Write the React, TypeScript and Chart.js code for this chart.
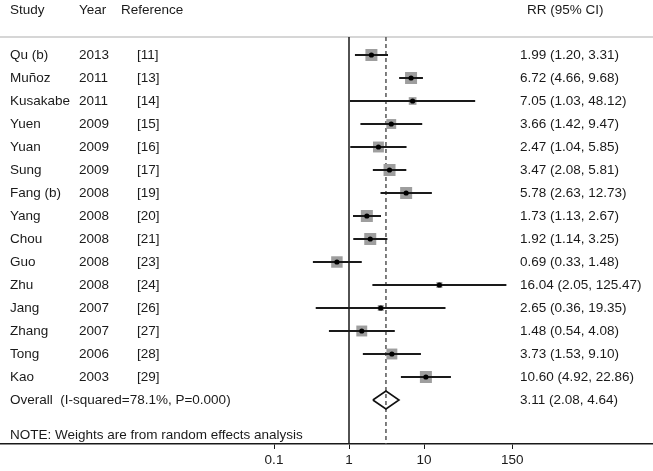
import React, { useEffect, useRef } from "react";
import { Chart, registerables } from "chart.js";

Chart.register(...registerables);

// ---------- data ----------
const studies = ["Qu (b)", "Muñoz", "Kusakabe", "Yuen", "Yuan", "Sung", "Fang (b)", "Yang", "Chou", "Guo", "Zhu", "Jang", "Zhang", "Tong", "Kao"];
const years = ["2013", "2011", "2011", "2009", "2009", "2009", "2008", "2008", "2008", "2008", "2008", "2007", "2007", "2006", "2003"];
const references = ["[11]", "[13]", "[14]", "[15]", "[16]", "[17]", "[19]", "[20]", "[21]", "[23]", "[24]", "[26]", "[27]", "[28]", "[29]"];
const rr = [1.99, 6.72, 7.05, 3.66, 2.47, 3.47, 5.78, 1.73, 1.92, 0.69, 16.04, 2.65, 1.48, 3.73, 10.6];
const ciLow = [1.2, 4.66, 1.03, 1.42, 1.04, 2.08, 2.63, 1.13, 1.14, 0.33, 2.05, 0.36, 0.54, 1.53, 4.92];
const ciHigh = [3.31, 9.68, 48.12, 9.47, 5.85, 5.81, 12.73, 2.67, 3.25, 1.48, 125.47, 19.35, 4.08, 9.1, 22.86];
// approximate study weights (%)
const weights = [8.0, 8.0, 3.3, 5.4, 6.6, 8.0, 8.0, 8.0, 8.0, 7.3, 2.0, 2.0, 6.6, 6.6, 8.0];
const overallLabel = "Overall  (I-squared=78.1%, P=0.000)";
const overallRR = 3.11;
const overallLow = 2.08;
const overallHigh = 4.64;
const headerLabels = ["Study", "Year", "Reference"];
const estimateHeader = "RR (95% CI)";
const noteText = "NOTE: Weights are from random effects analysis";
const xTicks = [0.1, 1, 10, 150];

// ---------- layout / style ----------
const W = 653;
const H = 471;
const FONT = "'Liberation Sans', Arial, Helvetica, sans-serif";
const FONT_SIZE = 13.5;
const TEXT = "#1a1a1a";
const AXIS_H = 27;
const PLOT_BOTTOM = H - AXIS_H;
const PX_PER_DECADE = 75;
const ONE_PX = 349;
const FIRST_ROW_PX = 55;
const ROW_PX = 23;
const SQUARE_BASE = 12;
const xMin = Math.pow(10, -ONE_PX / PX_PER_DECADE);
const xMax = Math.pow(10, (W - ONE_PX) / PX_PER_DECADE);
const yMin = -FIRST_ROW_PX / ROW_PX;
const yMax = yMin + PLOT_BOTTOM / ROW_PX;
const headerRow = -1.95;
const separatorRow = -0.78;
const overallRow = studies.length;
const noteRow = 16.52;
const diamondHalf = 9 / ROW_PX;
const colX = [10, 79, 121];
const refX = 137;
const estX = 520;
const estHeaderX = 527;

const fmt = (v: number) => v.toFixed(2);

const textPlugin = {
  id: "forestText",
  afterDatasetsDraw(chart: any) {
    const ctx = chart.ctx as CanvasRenderingContext2D;
    const ys = chart.scales.y;
    ctx.save();
    ctx.font = `${FONT_SIZE}px ${FONT}`;
    ctx.fillStyle = TEXT;
    ctx.textBaseline = "middle";
    ctx.textAlign = "left";
    const hy = ys.getPixelForValue(headerRow);
    headerLabels.forEach((h, i) => ctx.fillText(h, colX[i], hy));
    ctx.fillText(estimateHeader, estHeaderX, hy);
    studies.forEach((s, i) => {
      const py = ys.getPixelForValue(i);
      ctx.fillText(s, colX[0], py);
      ctx.fillText(years[i], colX[1], py);
      ctx.fillText(references[i], refX, py);
      ctx.fillText(`${fmt(rr[i])} (${fmt(ciLow[i])}, ${fmt(ciHigh[i])})`, estX, py);
    });
    const oy = ys.getPixelForValue(overallRow);
    ctx.fillText(overallLabel, colX[0], oy);
    ctx.fillText(`${fmt(overallRR)} (${fmt(overallLow)}, ${fmt(overallHigh)})`, estX, oy);
    ctx.fillText(noteText, colX[0], ys.getPixelForValue(noteRow));
    ctx.restore();
  },
};

export default function App() {
  const ref = useRef<HTMLCanvasElement | null>(null);
  useEffect(() => {
    document.body.style.margin = "0";
    if (!ref.current) return;
    const datasets: any[] = [];
    // header separator
    datasets.push({
      data: [{ x: xMin, y: separatorRow }, { x: xMax, y: separatorRow }],
      showLine: true, borderColor: "#c8c8c8", borderWidth: 1.5, pointRadius: 0, order: 5,
    });
    // null line
    datasets.push({
      data: [{ x: 1, y: separatorRow }, { x: 1, y: yMax }],
      showLine: true, borderColor: "#1a1a1a", borderWidth: 1.5, pointRadius: 0, order: 4,
    });
    // overall dashed line
    datasets.push({
      data: [{ x: overallRR, y: separatorRow }, { x: overallRR, y: yMax }],
      showLine: true, borderColor: "#555", borderWidth: 1.5, borderDash: [4, 3], pointRadius: 0, order: 4,
    });
    // weight squares
    datasets.push({
      data: rr.map((v, i) => ({ x: v, y: i })),
      pointStyle: "rect",
      pointRadius: weights.map((w) => (SQUARE_BASE * Math.sqrt(w / 8)) / (2 * Math.SQRT1_2)),
      backgroundColor: "#9e9e9e", borderWidth: 0, order: 3,
    });
    // CI lines
    rr.forEach((_, i) => {
      datasets.push({
        data: [{ x: ciLow[i], y: i }, { x: ciHigh[i], y: i }],
        showLine: true, borderColor: "#1a1a1a", borderWidth: 2, pointRadius: 0, order: 2,
      });
    });
    // point estimate dots
    datasets.push({
      data: rr.map((v, i) => ({ x: v, y: i })),
      pointStyle: "circle", pointRadius: 2.6, backgroundColor: "#000", borderWidth: 0, order: 1,
    });
    // overall diamond
    datasets.push({
      data: [
        { x: overallLow, y: overallRow },
        { x: overallRR, y: overallRow - diamondHalf },
        { x: overallHigh, y: overallRow },
        { x: overallRR, y: overallRow + diamondHalf },
        { x: overallLow, y: overallRow },
      ],
      showLine: true, fill: false, borderColor: "#111", borderWidth: 1.6, pointRadius: 0, order: 1,
    });

    const chart = new Chart(ref.current, {
      type: "scatter",
      data: { datasets },
      options: {
        animation: false,
        responsive: false,
        devicePixelRatio: 1,
        layout: { padding: 0, autoPadding: false },
        plugins: { legend: { display: false }, tooltip: { enabled: false } },
        scales: {
          x: {
            type: "logarithmic",
            position: "bottom",
            min: xMin,
            max: xMax,
            afterBuildTicks: (s: any) => {
              s.ticks = xTicks.map((v) => ({ value: v }));
            },
            afterFit: (s: any) => {
              s.height = AXIS_H;
            },
            ticks: {
              autoSkip: false,
              maxRotation: 0,
              padding: 3,
              color: TEXT,
              font: { family: FONT, size: FONT_SIZE },
              callback: (v: any) => String(v),
            },
            grid: { display: true, drawOnChartArea: false, drawTicks: true, tickLength: 5, color: "#1a1a1a", lineWidth: 1 },
            border: { display: true, color: "#1a1a1a", width: 1.5 },
          },
          y: { type: "linear", display: false, reverse: true, min: yMin, max: yMax },
        },
      } as any,
      plugins: [textPlugin],
    });
    return () => chart.destroy();
  }, []);
  return (
    <div style={{ width: W, height: H, background: "#fff" }}>
      <canvas ref={ref} width={W} height={H} style={{ display: "block" }} />
    </div>
  );
}
